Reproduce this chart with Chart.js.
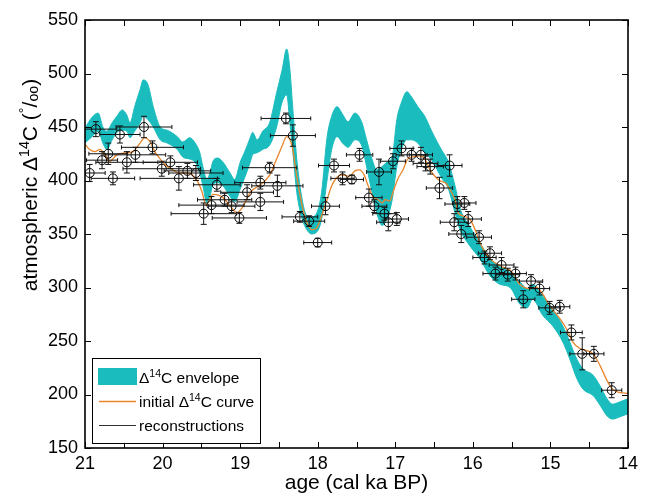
<!DOCTYPE html>
<html>
<head>
<meta charset="utf-8">
<script src="https://cdn.jsdelivr.net/npm/chart.js@4.4.0/dist/chart.umd.min.js"></script>
<style>
  body { margin: 0; background: #fff; }
  #wrap { width: 651px; height: 496px; }
</style>
</head>
<body>
<div id="wrap"><canvas id="chart"></canvas></div>
<script>
// D14C envelope (upper / lower edge)
const envAge = [21.00, 20.91, 20.83, 20.77, 20.72, 20.65, 20.59, 20.52, 20.46, 20.42, 20.36, 20.29, 20.25, 20.19, 20.12, 20.03, 19.94, 19.81, 19.74, 19.65, 19.58, 19.52, 19.48, 19.43, 19.39, 19.35, 19.29, 19.22, 19.13, 19.07, 19.00, 18.94, 18.87, 18.84, 18.78, 18.71, 18.62, 18.53, 18.46, 18.40, 18.36, 18.32, 18.27, 18.20, 18.14, 18.08, 18.01, 17.95, 17.88, 17.82, 17.75, 17.68, 17.61, 17.52, 17.43, 17.37, 17.30, 17.24, 17.17, 17.11, 17.04, 16.98, 16.92, 16.85, 16.79, 16.71, 16.62, 16.53, 16.46, 16.40, 16.32, 16.23, 16.17, 16.04, 15.91, 15.78, 15.65, 15.52, 15.39, 15.30, 15.23, 15.10, 14.97, 14.84, 14.75, 14.66, 14.58, 14.45, 14.36, 14.27, 14.20, 14.11, 14.00];
const envHigh = [449, 459, 463, 450, 446, 454, 460, 466, 461, 454, 469, 485, 494, 490, 469, 450, 447, 441, 436, 440, 435, 426, 413, 401, 407, 418, 421, 417, 407, 401, 417, 427, 440, 445, 438, 446, 454, 482, 503, 523, 505, 466, 420, 382, 367, 366, 370, 389, 440, 460, 469, 462, 455, 463, 454, 438, 420, 410, 413, 417, 422, 457, 473, 483, 478, 469, 460, 446, 436, 428, 418, 395, 375, 357, 342, 327, 320, 314, 305, 299, 303, 292, 280, 264, 249, 233, 224, 218, 208, 196, 191, 193, 196];
const envLow = [435, 441, 446, 435, 429, 438, 445, 447, 446, 440, 446, 454, 460, 457, 450, 438, 435, 429, 422, 420, 417, 407, 395, 379, 385, 396, 398, 395, 385, 380, 392, 403, 417, 424, 426, 429, 433, 450, 473, 480, 455, 426, 389, 364, 354, 350, 352, 364, 400, 429, 441, 435, 431, 438, 432, 413, 389, 370, 358, 364, 382, 413, 429, 438, 438, 435, 426, 419, 410, 402, 393, 370, 355, 339, 327, 311, 303, 300, 284, 281, 289, 274, 264, 249, 233, 215, 205, 199, 190, 180, 177, 179, 182];

// initial D14C curve
const curveAge = [21.00, 20.94, 20.87, 20.81, 20.74, 20.68, 20.59, 20.46, 20.38, 20.29, 20.23, 20.16, 20.10, 20.03, 19.94, 19.87, 19.78, 19.69, 19.61, 19.54, 19.49, 19.44, 19.35, 19.22, 19.13, 19.04, 18.96, 18.87, 18.74, 18.62, 18.53, 18.46, 18.40, 18.33, 18.27, 18.20, 18.14, 18.07, 18.01, 17.95, 17.88, 17.82, 17.75, 17.69, 17.59, 17.52, 17.46, 17.40, 17.35, 17.29, 17.22, 17.17, 17.13, 17.07, 17.03, 16.97, 16.90, 16.84, 16.77, 16.68, 16.62, 16.55, 16.49, 16.43, 16.34, 16.30, 16.23, 16.19, 16.13, 16.04, 15.97, 15.91, 15.85, 15.78, 15.69, 15.61, 15.52, 15.46, 15.42, 15.36, 15.27, 15.18, 15.10, 15.01, 14.88, 14.79, 14.71, 14.62, 14.53, 14.45, 14.36, 14.27, 14.20, 14.11, 14.00];
const curveD14C = [434, 429, 427, 429, 424, 418, 424, 426, 427, 435, 440, 436, 427, 420, 413, 410, 407, 407, 405, 398, 389, 377, 387, 384, 376, 370, 376, 389, 396, 405, 420, 432, 441, 432, 404, 376, 361, 354, 356, 367, 382, 395, 403, 405, 404, 409, 410, 405, 395, 385, 382, 379, 382, 381, 389, 401, 410, 420, 422, 423, 420, 410, 404, 400, 397, 392, 382, 370, 367, 364, 354, 342, 334, 327, 322, 319, 316, 311, 305, 301, 299, 300, 294, 283, 271, 261, 249, 243, 241, 238, 227, 213, 205, 202, 201];

// reconstructions with age and D14C errors
const recAge = [20.86, 20.55, 20.24, 20.13, 20.70, 20.78, 20.35, 20.46, 20.94, 20.64, 20.01, 19.90, 19.79, 19.68, 19.57, 19.30, 19.20, 19.37, 19.47, 19.11, 19.01, 18.91, 18.74, 18.74, 18.62, 18.52, 18.41, 18.32, 18.23, 18.11, 18.00, 17.90, 17.79, 17.68, 17.56, 17.46, 17.34, 17.27, 17.21, 17.14, 17.09, 16.98, 17.03, 16.92, 16.79, 16.67, 16.61, 16.55, 16.30, 16.43, 16.20, 16.11, 16.24, 16.15, 16.06, 15.92, 15.85, 15.78, 15.63, 15.71, 15.55, 15.45, 15.25, 15.14, 15.35, 15.01, 14.88, 14.73, 14.59, 14.44, 14.21];
const recD14C = [448, 443, 450, 431, 425, 419, 424, 417, 407, 402, 411, 417, 402, 409, 407, 396, 382, 377, 369, 376, 365, 389, 398, 380, 412, 395, 458, 442, 366, 362, 342, 376, 414, 402, 401, 424, 384, 376, 408, 369, 361, 364, 418, 430, 424, 424, 416, 413, 414, 393, 378, 379, 361, 350, 364, 347, 328, 332, 321, 313, 312, 313, 306, 299, 289, 281, 282, 258, 238, 238, 204];
const recAgeErr = [0.27, 0.26, 0.36, 0.40, 0.25, 0.20, 0.39, 0.40, 0.20, 0.28, 0.50, 0.35, 0.50, 0.30, 0.35, 0.30, 0.35, 0.42, 0.42, 0.30, 0.35, 0.34, 0.33, 0.30, 0.35, 0.33, 0.32, 0.29, 0.23, 0.20, 0.18, 0.18, 0.20, 0.15, 0.15, 0.17, 0.17, 0.16, 0.16, 0.15, 0.15, 0.15, 0.16, 0.15, 0.20, 0.15, 0.16, 0.17, 0.16, 0.17, 0.16, 0.15, 0.18, 0.16, 0.17, 0.16, 0.15, 0.15, 0.16, 0.16, 0.15, 0.14, 0.15, 0.13, 0.15, 0.14, 0.13, 0.14, 0.16, 0.13, 0.13];
const recD14CErr = [7, 8, 10, 6, 10, 8, 7, 10, 8, 6, 7, 6, 11, 7, 7, 6, 6, 8, 10, 6, 5, 7, 6, 8, 5, 10, 5, 10, 5, 5, 4, 8, 6, 6, 4, 6, 8, 6, 12, 6, 8, 6, 7, 7, 6, 7, 7, 7, 10, 10, 7, 6, 8, 8, 7, 6, 6, 6, 7, 6, 6, 6, 6, 6, 8, 6, 6, 7, 15, 7, 7];

const xTicks = [21, 20, 19, 18, 17, 16, 15, 14];
const yTicks = [150, 200, 250, 300, 350, 400, 450, 500, 550];

const TEAL = '#1bbcbe';
const ORANGE = '#e8862e';
const FONT = "'Liberation Sans', Arial, Helvetica, sans-serif";

Chart.defaults.font.family = FONT;
Chart.defaults.color = '#000';

// draw text with superscripts / subscripts, returns width
function richText(ctx, x, y, parts, size, measureOnly) {
    let cx = x;
    parts.forEach(p => {
        const s = p.sup || p.sub ? size * 0.68 : size;
        ctx.font = s + 'px ' + FONT;
        const dy = p.sup ? -size * 0.38 : (p.sub ? size * 0.04 : 0);
        if (!measureOnly) ctx.fillText(p.t, cx, y + dy);
        cx += ctx.measureText(p.t).width;
    });
    return cx - x;
}

const errorBars = {
    id: 'errorBars',
    afterDatasetsDraw(chart) {
        const { ctx, chartArea: a, scales: { x, y } } = chart;
        ctx.save();
        ctx.beginPath();
        ctx.rect(a.left, a.top, a.right - a.left, a.bottom - a.top);
        ctx.clip();
        ctx.strokeStyle = '#111';
        ctx.lineWidth = 1;
        recAge.forEach((age, i) => {
            const px = x.getPixelForValue(age);
            const py = y.getPixelForValue(recD14C[i]);
            const xa = x.getPixelForValue(age + recAgeErr[i]);
            const xb = x.getPixelForValue(age - recAgeErr[i]);
            const ya = y.getPixelForValue(recD14C[i] + recD14CErr[i]);
            const yb = y.getPixelForValue(recD14C[i] - recD14CErr[i]);
            ctx.beginPath();
            ctx.moveTo(xa, py); ctx.lineTo(xb, py);
            ctx.moveTo(xa, py - 2); ctx.lineTo(xa, py + 2);
            ctx.moveTo(xb, py - 2); ctx.lineTo(xb, py + 2);
            ctx.moveTo(px, ya); ctx.lineTo(px, yb);
            ctx.moveTo(px - 3, ya); ctx.lineTo(px + 3, ya);
            ctx.moveTo(px - 3, yb); ctx.lineTo(px + 3, yb);
            ctx.stroke();
        });
        ctx.restore();
    }
};

const frame = {
    id: 'frame',
    afterDraw(chart) {
        const { ctx, chartArea: a, scales: { x, y } } = chart;
        ctx.save();
        ctx.strokeStyle = '#000';
        ctx.lineWidth = 1;
        ctx.beginPath();
        for (let v = 14; v <= 21; v += 0.5) {
            const px = Math.round(x.getPixelForValue(v)) + 0.5;
            ctx.moveTo(px, a.bottom); ctx.lineTo(px, a.bottom - 6);
            ctx.moveTo(px, a.top); ctx.lineTo(px, a.top + 6);
        }
        yTicks.forEach(v => {
            const py = Math.round(y.getPixelForValue(v)) + 0.5;
            ctx.moveTo(a.left, py); ctx.lineTo(a.left + 6, py);
            ctx.moveTo(a.right, py); ctx.lineTo(a.right - 6, py);
        });
        ctx.stroke();
        ctx.lineWidth = 1.6;
        ctx.strokeRect(a.left, a.top, a.right - a.left, a.bottom - a.top);

        // y axis title
        const title = [{ t: 'atmospheric \u0394' }, { t: '14', sup: true }, { t: 'C (' },
                       { t: '\u00b0', sup: true }, { t: '/' }, { t: 'oo', sub: true }, { t: ')' }];
        ctx.save();
        ctx.translate(37, 185);
        ctx.rotate(-Math.PI / 2);
        ctx.fillStyle = '#000';
        ctx.textBaseline = 'alphabetic';
        const w = richText(ctx, 0, 0, title, 21, true);
        richText(ctx, -w / 2, 0, title, 21);
        ctx.restore();

        // legend
        const lx = a.left + 7, ly = a.bottom - 90;
        ctx.fillStyle = '#fff';
        ctx.fillRect(lx, ly, 168, 85);
        ctx.lineWidth = 1;
        ctx.strokeStyle = '#000';
        ctx.strokeRect(lx + 0.5, ly + 0.5, 168, 85);
        ctx.fillStyle = TEAL;
        ctx.fillRect(lx + 6, ly + 10, 39, 17);
        ctx.lineWidth = 1.5;
        ctx.strokeStyle = ORANGE;
        ctx.beginPath(); ctx.moveTo(lx + 7, ly + 43.5); ctx.lineTo(lx + 44, ly + 43.5); ctx.stroke();
        ctx.lineWidth = 1;
        ctx.strokeStyle = '#333';
        ctx.beginPath(); ctx.moveTo(lx + 7, ly + 67.5); ctx.lineTo(lx + 44, ly + 67.5); ctx.stroke();
        ctx.fillStyle = '#000';
        ctx.textBaseline = 'alphabetic';
        richText(ctx, lx + 47, ly + 25, [{ t: '\u0394' }, { t: '14', sup: true }, { t: 'C envelope' }], 15.5);
        richText(ctx, lx + 47, ly + 49, [{ t: 'initial \u0394' }, { t: '14', sup: true }, { t: 'C curve' }], 15.5);
        richText(ctx, lx + 47, ly + 73, [{ t: 'reconstructions' }], 15.5);
        ctx.restore();
    }
};

const ctx = document.getElementById('chart').getContext('2d');
new Chart(ctx, {
    data: {
        datasets: [
            {
                type: 'line',
                label: 'envelope upper',
                data: envAge.map((a, i) => ({ x: a, y: envHigh[i] })),
                borderColor: TEAL,
                borderWidth: 1,
                backgroundColor: TEAL,
                pointRadius: 0,
                cubicInterpolationMode: 'monotone',
                fill: '+1',
                order: 3
            },
            {
                type: 'line',
                label: 'envelope lower',
                data: envAge.map((a, i) => ({ x: a, y: envLow[i] })),
                borderColor: TEAL,
                borderWidth: 1,
                pointRadius: 0,
                cubicInterpolationMode: 'monotone',
                fill: false,
                order: 3
            },
            {
                type: 'line',
                label: 'initial curve',
                data: curveAge.map((a, i) => ({ x: a, y: curveD14C[i] })),
                borderColor: ORANGE,
                borderWidth: 1.3,
                pointRadius: 0,
                cubicInterpolationMode: 'monotone',
                fill: false,
                order: 2
            },
            {
                type: 'scatter',
                label: 'reconstructions',
                data: recAge.map((a, i) => ({ x: a, y: recD14C[i] })),
                borderColor: '#000',
                backgroundColor: 'rgba(0,0,0,0)',
                borderWidth: 1,
                pointRadius: 4.5,
                order: 1
            }
        ]
    },
    options: {
        responsive: true,
        maintainAspectRatio: false,
        animation: false,
        layout: { padding: { top: 20, right: 23, left: 0, bottom: 0 } },
        plugins: { legend: { display: false }, tooltip: { enabled: false } },
        scales: {
            x: {
                type: 'linear',
                min: 14, max: 21,
                reverse: true,
                afterFit: s => { s.height = 48; },
                afterBuildTicks: s => { s.ticks = xTicks.map(v => ({ value: v })); },
                grid: { display: false, drawTicks: false },
                border: { display: false },
                ticks: { font: { size: 18 }, padding: 5, maxRotation: 0 },
                title: { display: true, text: 'age (cal ka BP)', font: { size: 21 }, padding: { top: 0, bottom: 0 } }
            },
            y: {
                type: 'linear',
                min: 150, max: 550,
                afterFit: s => { s.width = 85; },
                afterBuildTicks: s => { s.ticks = yTicks.map(v => ({ value: v })); },
                grid: { display: false, drawTicks: false },
                border: { display: false },
                ticks: { font: { size: 18 }, padding: 7 }
            }
        }
    },
    plugins: [errorBars, frame]
});
</script>
</body>
</html>
